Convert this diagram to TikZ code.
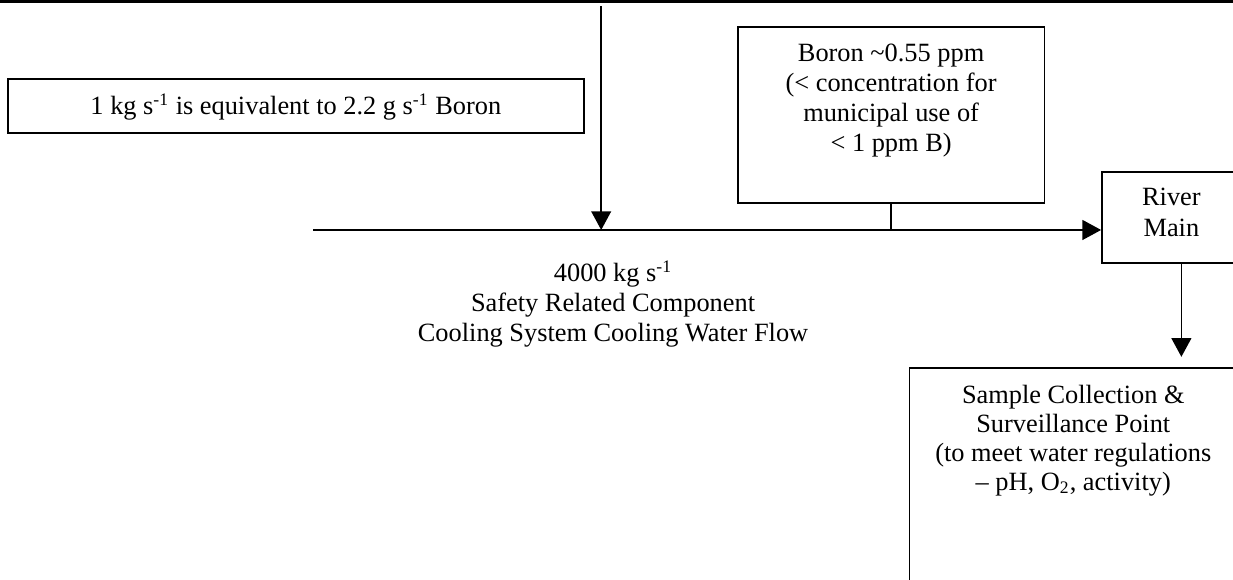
\documentclass[tikz,border=0pt]{standalone}
\usepackage{fontspec}
\setmainfont{Liberation Serif}
\usetikzlibrary{arrows.meta, positioning}

\begin{document}
\begin{tikzpicture}[
    box/.style={draw, line width=0.8pt, anchor=north west, inner sep=0pt},
    txt/.style={font=\fontsize{12}{13.7}\selectfont, align=center, inner sep=0pt},
    arrow/.style={-{Triangle[length=8.5pt, width=9pt]}, line width=0.8pt}
]
\useasboundingbox (0,0) rectangle (19.73,-9.28);
\clip (0,0) rectangle (19.73,-9.28);
% rule along the top
\draw[line width=1.3pt] (0,-0.03) -- (19.73,-0.03);
\node[box, minimum width=9.22cm, minimum height=0.86cm,
      label={[txt, anchor=north, yshift=-0.24cm]north:{1 kg s\textsuperscript{-1} is equivalent to 2.2 g s\textsuperscript{-1} Boron}}] (conv) at (0.11,-1.25) {};
\node[box, minimum width=4.91cm, minimum height=2.81cm,
      label={[txt, anchor=north, yshift=-0.27cm]north:{Boron \textasciitilde0.55 ppm\\(< concentration for\\municipal use of\\< 1 ppm B)}}] (boron) at (11.79,-0.42) {};
\node[box, minimum width=2.22cm, minimum height=1.45cm,
      label={[txt, anchor=north, yshift=-0.27cm]north:{River\\Main}}] (river) at (17.62,-2.74) {};
\node[box, minimum width=5.24cm, minimum height=4cm,
      label={[txt, font=\fontsize{12}{13.2}\selectfont, anchor=north, yshift=-0.28cm]north:{Sample Collection \&\\Surveillance Point\\(to meet water regulations\\-- pH, O\textsubscript{2}, activity)}}] (sample) at (14.54,-5.87) {};
\node[txt, anchor=north] (flowlbl) at (9.81,-4.16) {4000 kg s\textsuperscript{-1}\\Safety Related Component\\Cooling System Cooling Water Flow};

\coordinate (feed) at (9.62,-0.10);
\coordinate (flowin) at (5.01,-3.68);
\coordinate (outlet) at ([xshift=0.16cm]river.south);
\draw[arrow] (feed) -- (feed |- flowin);
\draw[arrow] (flowin) -- (flowin -| river.west);
\draw[line width=0.8pt] (boron.south) -- (boron.south |- flowin);
\draw[arrow, shorten >=0.16cm] (outlet) -- (outlet |- sample.north);
\end{tikzpicture}
\end{document}
